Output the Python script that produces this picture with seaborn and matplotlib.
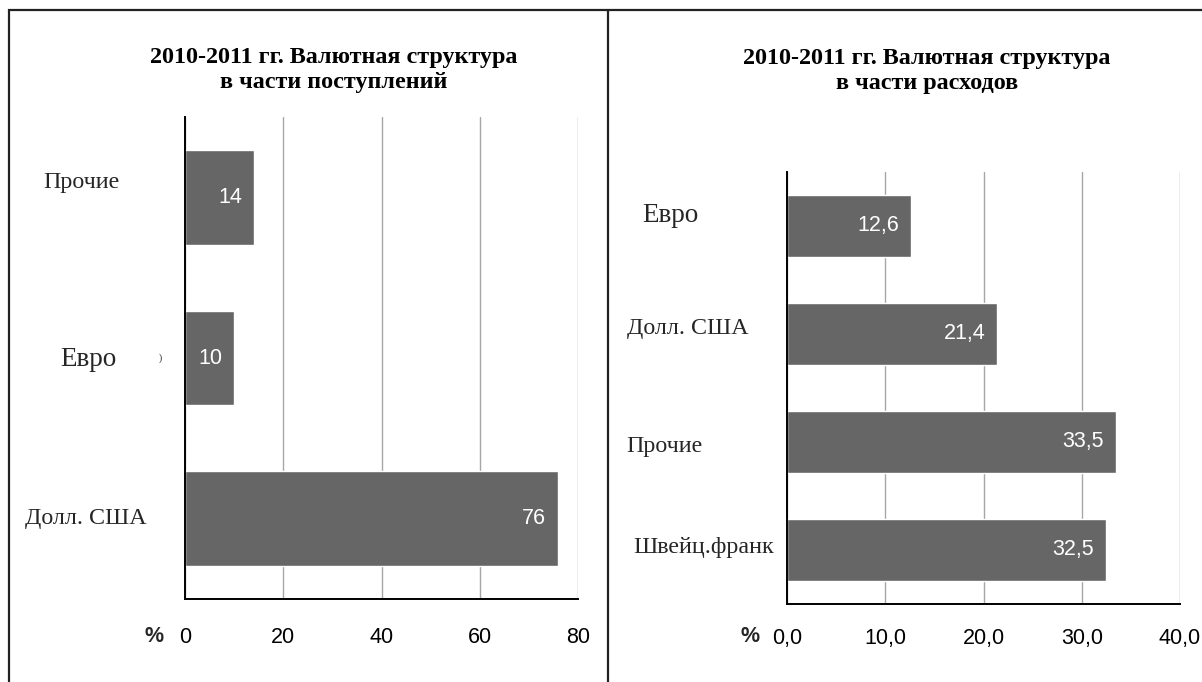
import matplotlib
matplotlib.use('Agg')
import matplotlib.pyplot as plt
import matplotlib.transforms as mtransforms
from matplotlib.patches import Rectangle
from matplotlib.ticker import FuncFormatter
import seaborn as sns

# данные: поступления
in_cats = ['Прочие', 'Евро', 'Долл. США']
in_vals = [14, 10, 76]
in_ticks = [0, 20, 40, 60, 80]

# данные: расходы
out_cats = ['Евро', 'Долл. США', 'Прочие', 'Швейц.франк']
out_vals = [12.6, 21.4, 33.5, 32.5]
out_ticks = [0, 10, 20, 30, 40]

title_in = '2010-2011 гг. Валютная структура\nв части поступлений'
title_out = '2010-2011 гг. Валютная структура\nв части расходов'

sns.set_style('white')
plt.rcParams['font.family'] = ['Liberation Sans', 'DejaVu Sans']

W, H = 1202, 682
fig = plt.figure(figsize=(W / 100, H / 100), dpi=100)

def px(x, y):
    # пиксели картинки -> доли фигуры
    return x / W, 1 - y / H

SERIF = ['Liberation Serif', 'DejaVu Serif']
BAR = '#666666'


def panel(rect, cats, vals, ticks, fmt, bar_w, lab_x, lab_dy, lab_size, pad):
    ax = fig.add_axes(rect)
    sns.barplot(x=vals, y=cats, orient='h', color=BAR, saturation=1,
                width=bar_w, ax=ax)
    ax.set_xlim(ticks[0], ticks[-1])
    ax.set_ylim(len(cats) - 0.5, -0.5)
    ax.set_xticks(ticks)
    ax.xaxis.set_major_formatter(FuncFormatter(fmt))
    ax.grid(axis='x', color='#a6a6a6', linewidth=1.0)
    ax.set_axisbelow(True)
    for s in ['top', 'right']:
        ax.spines[s].set_visible(False)
    for s in ['left', 'bottom']:
        ax.spines[s].set_color('black')
        ax.spines[s].set_linewidth(1.4)
    ax.tick_params(axis='x', length=0, pad=pad, labelsize=15.5, labelcolor='black')
    ax.set_yticks([])
    ax.set_xlabel('')
    ax.set_ylabel('')

    # подписи значений внутри баров
    for i, v in enumerate(vals):
        ax.annotate(fmt(v, None) if isinstance(v, float) else str(v),
                    xy=(v, i), xytext=(-12, 0), textcoords='offset pixels',
                    ha='right', va='center', color='white', fontsize=15.5)

    # подписи категорий слева
    trans = mtransforms.blended_transform_factory(fig.transFigure, ax.transData)
    for i, c in enumerate(cats):
        ax.text(lab_x[i] / W, i + lab_dy[i], c, transform=trans, ha='left',
                va='center', family=SERIF, fontsize=lab_size[i], clip_on=False)
    return ax


ax1 = panel([185 / W, 1 - 599 / H, 393 / W, (599 - 117) / H],
            in_cats, in_vals, in_ticks, lambda v, p: f'{v:.0f}', 0.59,
            lab_x=[43, 60, 25], lab_dy=[-0.09, 0.01, 0.0],
            lab_size=[17.3, 19.5, 17.3], pad=20)
ax2 = panel([787 / W, 1 - 604 / H, 393 / W, (604 - 172) / H],
            out_cats, out_vals, out_ticks,
            lambda v, p: f'{v:.1f}'.replace('.', ','), 0.57,
            lab_x=[642, 627, 626, 633], lab_dy=[-0.1, -0.05, 0.04, -0.02],
            lab_size=[19.5, 17.3, 17.3, 17.3], pad=17)

# маленький артефакт рядом с "Евро"
trans1 = mtransforms.blended_transform_factory(fig.transFigure, ax1.transData)
ax1.text(160 / W, 1, ')', transform=trans1, ha='center', va='center',
         family=SERIF, fontsize=7, clip_on=False)

# знак процента у оси
fig.text(*px(154, 636), '%', ha='center', va='center', fontsize=15.5,
         fontweight='bold')
fig.text(*px(750, 636), '%', ha='center', va='center', fontsize=15.5,
         fontweight='bold')

# заголовки
fig.text(*px(334, 70), title_in, ha='center', va='center', family=SERIF,
         fontsize=17.4, fontweight='bold', linespacing=1.3, color='black')
fig.text(*px(927, 71), title_out, ha='center', va='center', family=SERIF,
         fontsize=17.4, fontweight='bold', linespacing=1.3, color='black')

# рамки (правый край уходит за пределы картинки)
fig.patches.append(Rectangle(px(9, 700), (1220 - 9) / W, (700 - 10) / H,
                             transform=fig.transFigure, fill=False,
                             edgecolor='#222222', linewidth=1.6))
fig.add_artist(plt.Line2D([608 / W, 608 / W], [0, 1 - 10 / H],
                          transform=fig.transFigure, color='#222222',
                          linewidth=1.6))

fig.savefig('out.png', dpi=100, facecolor='white')
